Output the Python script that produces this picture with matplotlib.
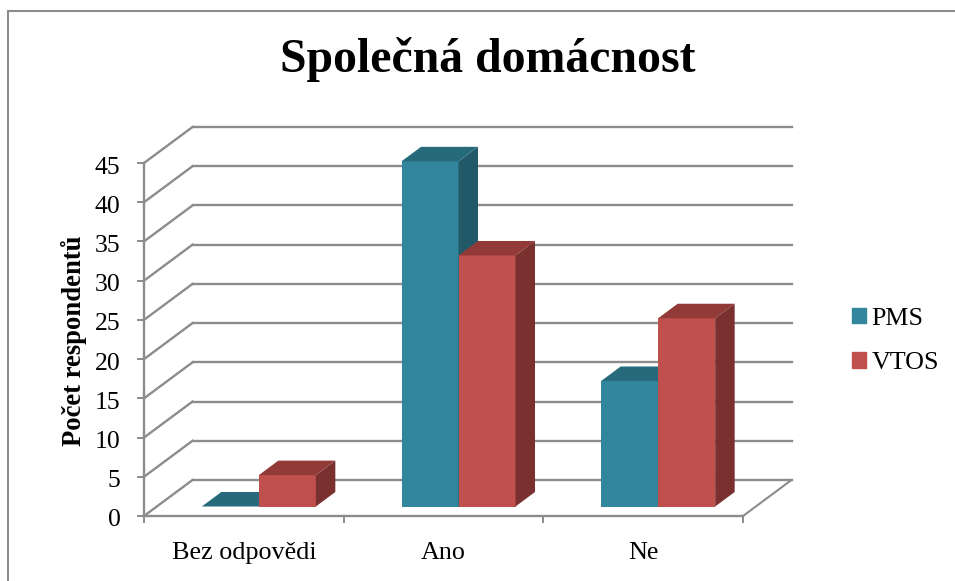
import matplotlib
matplotlib.use('Agg')
import matplotlib.pyplot as plt
from matplotlib.patches import Patch, Rectangle
from matplotlib.transforms import ScaledTranslation

categories = ['Bez odpovědi', 'Ano', 'Ne']
pms = [0, 44, 16]
vtos = [4, 32, 24]
y_ticks = [0, 5, 10, 15, 20, 25, 30, 35, 40, 45]

W, H = 955, 581
GREY = '#8c8c8c'
plt.rcParams['font.family'] = ['Liberation Serif', 'DejaVu Serif']

fig = plt.figure(figsize=(W / 100, H / 100), dpi=100)
ax = fig.add_axes([144 / W, 1 - 516 / H, (743 - 144) / W, (516 - 163) / H])
ax.set_xlim(0, 3)
ax.set_ylim(0, 45)
ax.patch.set_visible(False)

# depth of the 3d box, in data units
px_x = 3 / (743 - 144)
px_y = 45 / (516 - 163)
depth_x = 48.5 * px_x
depth_y = 36 * px_y


# back wall and the left wall / floor lines
for t in y_ticks:
    ax.plot([depth_x, 3 + depth_x], [t + depth_y, t + depth_y], color=GREY, lw=1.7, clip_on=False, zorder=1)
    ax.plot([0, depth_x], [t, t + depth_y], color=GREY, lw=1.7, clip_on=False, zorder=1)
ax.plot([3, 3 + depth_x], [0, depth_y], color=GREY, lw=1.5, clip_on=False, zorder=1)

# bars
bar_w = 57 * px_x
off_x = 15 * px_x
base = 9.5 * px_y
bar_dx = 19.5 * px_x
bar_dy = 14.5 * px_y


def draw_bars(values, left_of_centre, front, top, side, z):
    for i, v in enumerate(values):
        x0 = i + 0.5 + off_x + left_of_centre
        x1 = x0 + bar_w
        y1 = base + v
        if v > 0:
            ax.bar(x0, v, bar_w, bottom=base, align='edge', color=front, edgecolor='none', clip_on=False, zorder=z)
            ax.fill([x1, x1 + bar_dx, x1 + bar_dx, x1], [base, base + bar_dy, y1 + bar_dy, y1],
                    color=side, lw=0, clip_on=False, zorder=z)
        ax.fill([x0, x1, x1 + bar_dx, x0 + bar_dx], [y1, y1, y1 + bar_dy, y1 + bar_dy],
                color=top, lw=0, clip_on=False, zorder=z)


draw_bars(pms, -bar_w, '#31859c', '#276a7c', '#215968', 3)
draw_bars(vtos, 0, '#c0504d', '#913a37', '#7a302e', 4)

# axes
for s in ['top', 'right']:
    ax.spines[s].set_visible(False)
for s in ['left', 'bottom']:
    ax.spines[s].set_color(GREY)
    ax.spines[s].set_linewidth(1.7)

ax.set_yticks(y_ticks)
ax.tick_params(axis='y', length=5, width=1.4, color=GREY, pad=12, labelsize=18.5, labelcolor='black')
# y labels sit a little under their ticks
for lab in ax.get_yticklabels():
    lab.set_transform(lab.get_transform() + ScaledTranslation(0, -2 / 100, fig.dpi_scale_trans))
ax.set_xticks([0, 1, 2, 3])
ax.set_xticklabels([])
ax.set_xticks([i + 0.5 for i in range(len(categories))], categories, minor=True)
ax.tick_params(axis='x', which='major', length=5, width=1.4, color=GREY)
ax.tick_params(axis='x', which='minor', length=0, pad=19, labelsize=18.8)

fig.text(488 / W, 1 - 60 / H, 'Společná domácnost', fontsize=34.4, fontweight='bold', ha='center', va='center')
fig.text(73.5 / W, 1 - 341 / H, 'Počet respondentů', fontsize=19.2, fontweight='bold', rotation=90, ha='center', va='center')

handles = [Patch(color='#31859c', label='PMS'), Patch(color='#c0504d', label='VTOS')]
fig.legend(handles=handles, loc='center left', bbox_to_anchor=(852 / W, 1 - 341 / H), frameon=False,
           fontsize=18.7, handlelength=0.55, handleheight=0.55, handletextpad=0.2, labelspacing=0.87,
           borderpad=0, borderaxespad=0)

# chart frame, runs off the right and bottom of the picture
fig.add_artist(Rectangle((7.5 / W, -0.02), 1.02, 1 - 10.5 / H + 0.02, transform=fig.transFigure,
                         facecolor='none', edgecolor=GREY, lw=1.5))

fig.savefig('out.png', dpi=100)
plt.close()
